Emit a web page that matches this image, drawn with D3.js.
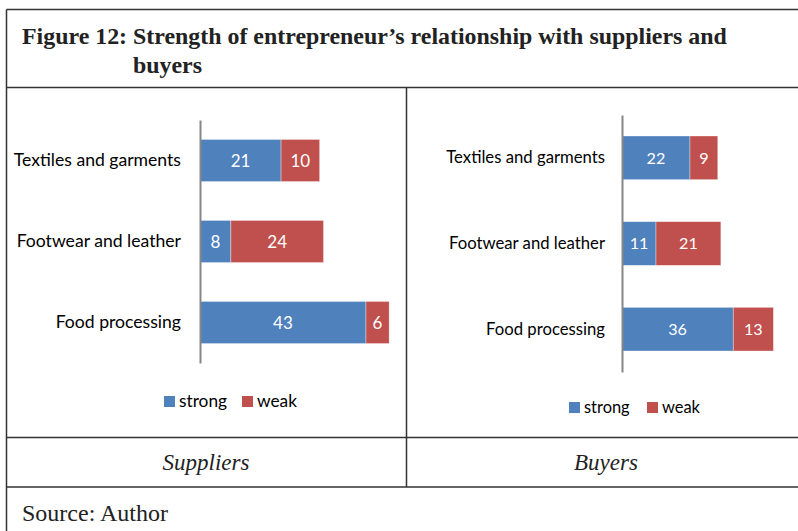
<!DOCTYPE html>
<html><head><meta charset="utf-8">
<script src="https://cdn.jsdelivr.net/npm/d3@7"></script>
<style>html,body{margin:0;padding:0;background:#fff;}svg{display:block;}</style>
</head><body>
<script>
const categories = ["Textiles and garments", "Footwear and leather", "Food processing"];
const seriesNames = ["strong", "weak"];
const suppliersStrong = [21, 8, 43];
const suppliersWeak = [10, 24, 6];
const buyersStrong = [22, 11, 36];
const buyersWeak = [9, 21, 13];
const panelTitles = ["Suppliers", "Buyers"];
const titleLines = ["Figure 12: Strength of entrepreneur\u2019s relationship with suppliers and", "buyers"];
const sourceText = "Source: Author";

const colors = {strong: "#4f81bd", weak: "#c0504d"};
const W = 798, H = 531;
const svg = d3.select("body").append("svg").attr("width", W).attr("height", H);
const border = "#333";

// table frame
const lines = [
  [6.5, 9.5, 810, 9.5],
  [6.5, 9.5, 6.5, 540],
  [6.5, 87.5, 810, 87.5],
  [6.5, 437.5, 810, 437.5],
  [6.5, 487, 810, 487],
  [406.5, 87.5, 406.5, 487]
];
svg.selectAll("line.frame").data(lines).join("line").attr("class","frame")
  .attr("x1", d=>d[0]).attr("y1", d=>d[1]).attr("x2", d=>d[2]).attr("y2", d=>d[3])
  .attr("stroke", border).attr("stroke-width", 1.5);

const serif = "Liberation Serif, Times New Roman, serif";
// title
svg.append("text").attr("x", 22).attr("y", 44)
  .attr("font-family", serif).attr("font-weight", "bold")
  .attr("font-size", 23.9).attr("fill", "#222").text(titleLines[0]);
svg.append("text").attr("x", 133).attr("y", 73)
  .attr("font-family", serif).attr("font-weight", "bold")
  .attr("font-size", 23.9).attr("fill", "#222").text(titleLines[1]);

// panel labels
[206, 606].forEach((cx, i) => {
  svg.append("text").attr("x", cx).attr("y", 470).attr("text-anchor", "middle")
    .attr("font-family", serif).attr("font-style", "italic")
    .attr("font-size", 23).attr("fill", "#222").text(panelTitles[i]);
});
svg.append("text").attr("x", 22).attr("y", 521)
  .attr("font-family", serif)
  .attr("font-size", 24).attr("fill", "#222").text(sourceText);

const labelFont = "Lato, 'Open Sans', sans-serif";

function panel(cfg) {
  const g = svg.append("g");
  const x = d3.scaleLinear().domain([0, 50]).range([cfg.x0, cfg.x0 + cfg.pxPerUnit * 50]);
  const y = d3.scaleBand().domain(categories).range([cfg.yTop, cfg.yBot])
    .paddingInner(cfg.pad).paddingOuter(cfg.pad / 2);
  const data = categories.map((c, i) => ({cat: c, strong: cfg.strong[i], weak: cfg.weak[i]}));
  const stack = d3.stack().keys(seriesNames)(data);
  stack.forEach(layer => {
    g.selectAll(null).data(layer).join("rect")
      .attr("x", d => x(d[0])).attr("width", d => x(d[1]) - x(d[0]))
      .attr("y", d => y(d.data.cat)).attr("height", y.bandwidth())
      .attr("fill", colors[layer.key]).attr("stroke", "#fff").attr("stroke-width", 0.6).attr("stroke-opacity", 0.6);
    g.selectAll(null).data(layer).join("text")
      .attr("x", d => (x(d[0]) + x(d[1])) / 2).attr("y", d => y(d.data.cat) + y.bandwidth() / 2)
      .attr("dy", "0.36em").attr("text-anchor", "middle")
      .attr("font-family", labelFont).attr("font-size", 17 * cfg.fs).attr("fill", "#fff")
      .text(d => d[1] - d[0]);
  });
  // axis
  const axis = d3.axisLeft(y).tickSize(0).tickPadding(cfg.tickPad);
  const ag = g.append("g").attr("transform", `translate(${cfg.x0},0)`).call(axis);
  ag.select(".domain").attr("stroke", "#868686").attr("stroke-width", 2);
  ag.selectAll("text").attr("font-family", labelFont).attr("font-size", 17.6 * cfg.fs).attr("fill", "#000");
  // legend
  const lg = g.append("g");
  cfg.legend.forEach((p, i) => {
    lg.append("rect").attr("x", p[0]).attr("y", cfg.legY).attr("width", 11).attr("height", 11)
      .attr("fill", colors[seriesNames[i]]);
    lg.append("text").attr("x", p[0] + 15).attr("y", cfg.legY + 11)
      .attr("font-family", labelFont).attr("font-size", 17.3 * cfg.fs).attr("fill", "#000").text(seriesNames[i]);
  });
}

panel({x0: 200, pxPerUnit: 3.86, yTop: 120, yBot: 363, pad: 0.48, tickPad: 19, fs: 1,
  strong: suppliersStrong, weak: suppliersWeak, legY: 396, legend: [[164], [242]]});
panel({x0: 622, pxPerUnit: 3.09, yTop: 115, yBot: 372, pad: 0.49, tickPad: 17, fs: 0.95,
  strong: buyersStrong, weak: buyersWeak, legY: 402, legend: [[569], [647]]});
</script>
</body></html>
